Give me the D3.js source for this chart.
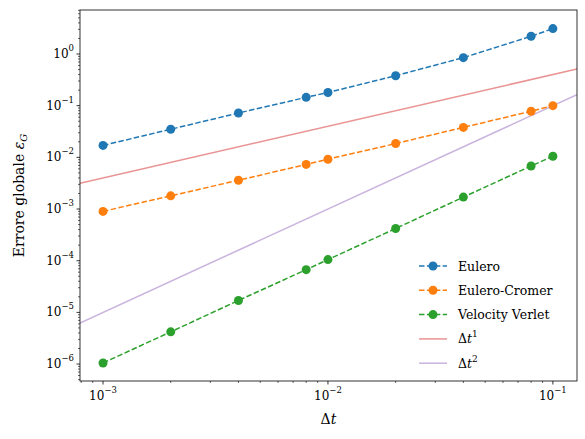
<!DOCTYPE html><html><head><meta charset="utf-8"><script src="https://cdn.jsdelivr.net/npm/d3@7"></script>
<style>body{margin:0;background:#fff}text{font-family:"DejaVu Serif",serif}</style></head><body><svg id="c" width="585" height="439"></svg>
<script>
const dts=[0.001,0.002,0.004,0.008,0.01,0.02,0.04,0.08,0.1];
const eulero=[0.017,0.035,0.072,0.145,0.18,0.38,0.85,2.2,3.1];
const cromer=[0.0009,0.0018,0.0036,0.0073,0.0092,0.0185,0.038,0.078,0.1];
const verlet=[1.05e-6,4.2e-6,1.7e-5,6.7e-5,1.05e-4,4.2e-4,1.7e-3,6.8e-3,1.05e-2];
const c1=4, c2=10;
const xTicks=[-3,-2,-1], yTicks=[-6,-5,-4,-3,-2,-1,0];
const svg=d3.select("#c");
const L=80,R=577,T=10,B=381;
const x=d3.scaleLog().domain([7.9e-4,0.128]).range([L,R]);
const y=d3.scaleLog().domain([4.7e-7,7.1]).range([B,T]);
const g=svg.append("g");
g.append("defs").append("clipPath").attr("id","cp").append("rect").attr("x",L).attr("y",T).attr("width",R-L).attr("height",B-T);
const pl=g.append("g").attr("clip-path","url(#cp)");
const ln=d3.line().x(d=>x(d[0])).y(d=>y(d[1]));
const xd=x.domain();
pl.append("path").attr("d",ln(xd.map(v=>[v,c1*v]))).attr("stroke","#d62728").attr("stroke-opacity",0.5).attr("stroke-width",1.5).attr("fill","none");
pl.append("path").attr("d",ln(xd.map(v=>[v,c2*v*v]))).attr("stroke","#9467bd").attr("stroke-opacity",0.5).attr("stroke-width",1.5).attr("fill","none");
const series=[[eulero,"#1f77b4","Eulero"],[cromer,"#ff7f0e","Eulero-Cromer"],[verlet,"#2ca02c","Velocity Verlet"]];
series.forEach(([v,col])=>{
  const pts=dts.map((d,i)=>[d,v[i]]);
  pl.append("path").attr("d",ln(pts)).attr("stroke",col).attr("stroke-width",1.5).attr("stroke-dasharray","5.5,2.4").attr("fill","none");
  pl.selectAll(null).data(pts).enter().append("circle").attr("cx",d=>x(d[0])).attr("cy",d=>y(d[1])).attr("r",4.5).attr("fill",col);
});
g.append("rect").attr("x",L).attr("y",T).attr("width",R-L).attr("height",B-T).attr("fill","none").attr("stroke","#000").attr("stroke-width",0.8);
function sup(t,e){t.text("10");t.append("tspan").attr("dy",-7).attr("font-size",8.5).text(e<0?"\u2212"+(-e):e);}
for(let e=-4;e<=0;e++)for(let k=1;k<10;k++){const v=k*10**e;if(v<xd[0]||v>xd[1])continue;const px=x(v);
 g.append("line").attr("x1",px).attr("x2",px).attr("y1",B).attr("y2",B+(k==1?3.5:2)).attr("stroke","#000").attr("stroke-width",k==1?0.8:0.6);}
xTicks.forEach(e=>{const t=g.append("text").attr("x",x(10**e)).attr("y",B+19).attr("text-anchor","middle").attr("font-size",12);sup(t,e);});
const yd=y.domain();
for(let e=-7;e<=1;e++)for(let k=1;k<10;k++){const v=k*10**e;if(v<yd[0]||v>yd[1])continue;const py=y(v);
 g.append("line").attr("x1",L).attr("x2",L-(k==1?3.5:2)).attr("y1",py).attr("y2",py).attr("stroke","#000").attr("stroke-width",k==1?0.8:0.6);}
yTicks.forEach(e=>{const t=g.append("text").attr("x",L-6).attr("y",y(10**e)+4).attr("text-anchor","end").attr("font-size",12);sup(t,e);});
g.append("text").attr("x",(L+R)/2).attr("y",424).attr("text-anchor","middle").attr("font-size",14).html("Δ<tspan font-style='italic'>t</tspan>");
const yl=g.append("text").attr("transform",`translate(24,${(T+B)/2}) rotate(-90)`).attr("text-anchor","middle").attr("font-size",14).text("Errore globale ");
yl.append("tspan").attr("font-style","italic").text("ε");yl.append("tspan").attr("font-style","italic").attr("font-size",10).attr("dy",3).text("G");
const lg=g.append("g");
const items=[["#1f77b4",1,true,"Eulero"],["#ff7f0e",1,true,"Eulero-Cromer"],["#2ca02c",1,true,"Velocity Verlet"],["#d62728",0.5,false,"Δ",1],["#9467bd",0.5,false,"Δ",2]];
items.forEach((it,i)=>{const yy=266+i*24.3;
 lg.append("line").attr("x1",419).attr("x2",447).attr("y1",yy).attr("y2",yy).attr("stroke",it[0]).attr("stroke-opacity",it[1]).attr("stroke-width",1.5).attr("stroke-dasharray",it[2]?"5.5,2.4":null);
 if(it[2])lg.append("circle").attr("cx",433).attr("cy",yy).attr("r",4.5).attr("fill",it[0]);
 const t=lg.append("text").attr("x",458).attr("y",yy+4.5).attr("font-size",12.5).text(it[3]);
 if(it[4]){t.append("tspan").attr("font-style","italic").text("t");t.append("tspan").attr("dy",-6).attr("font-size",9).text(it[4]);}
});
</script></body></html>
